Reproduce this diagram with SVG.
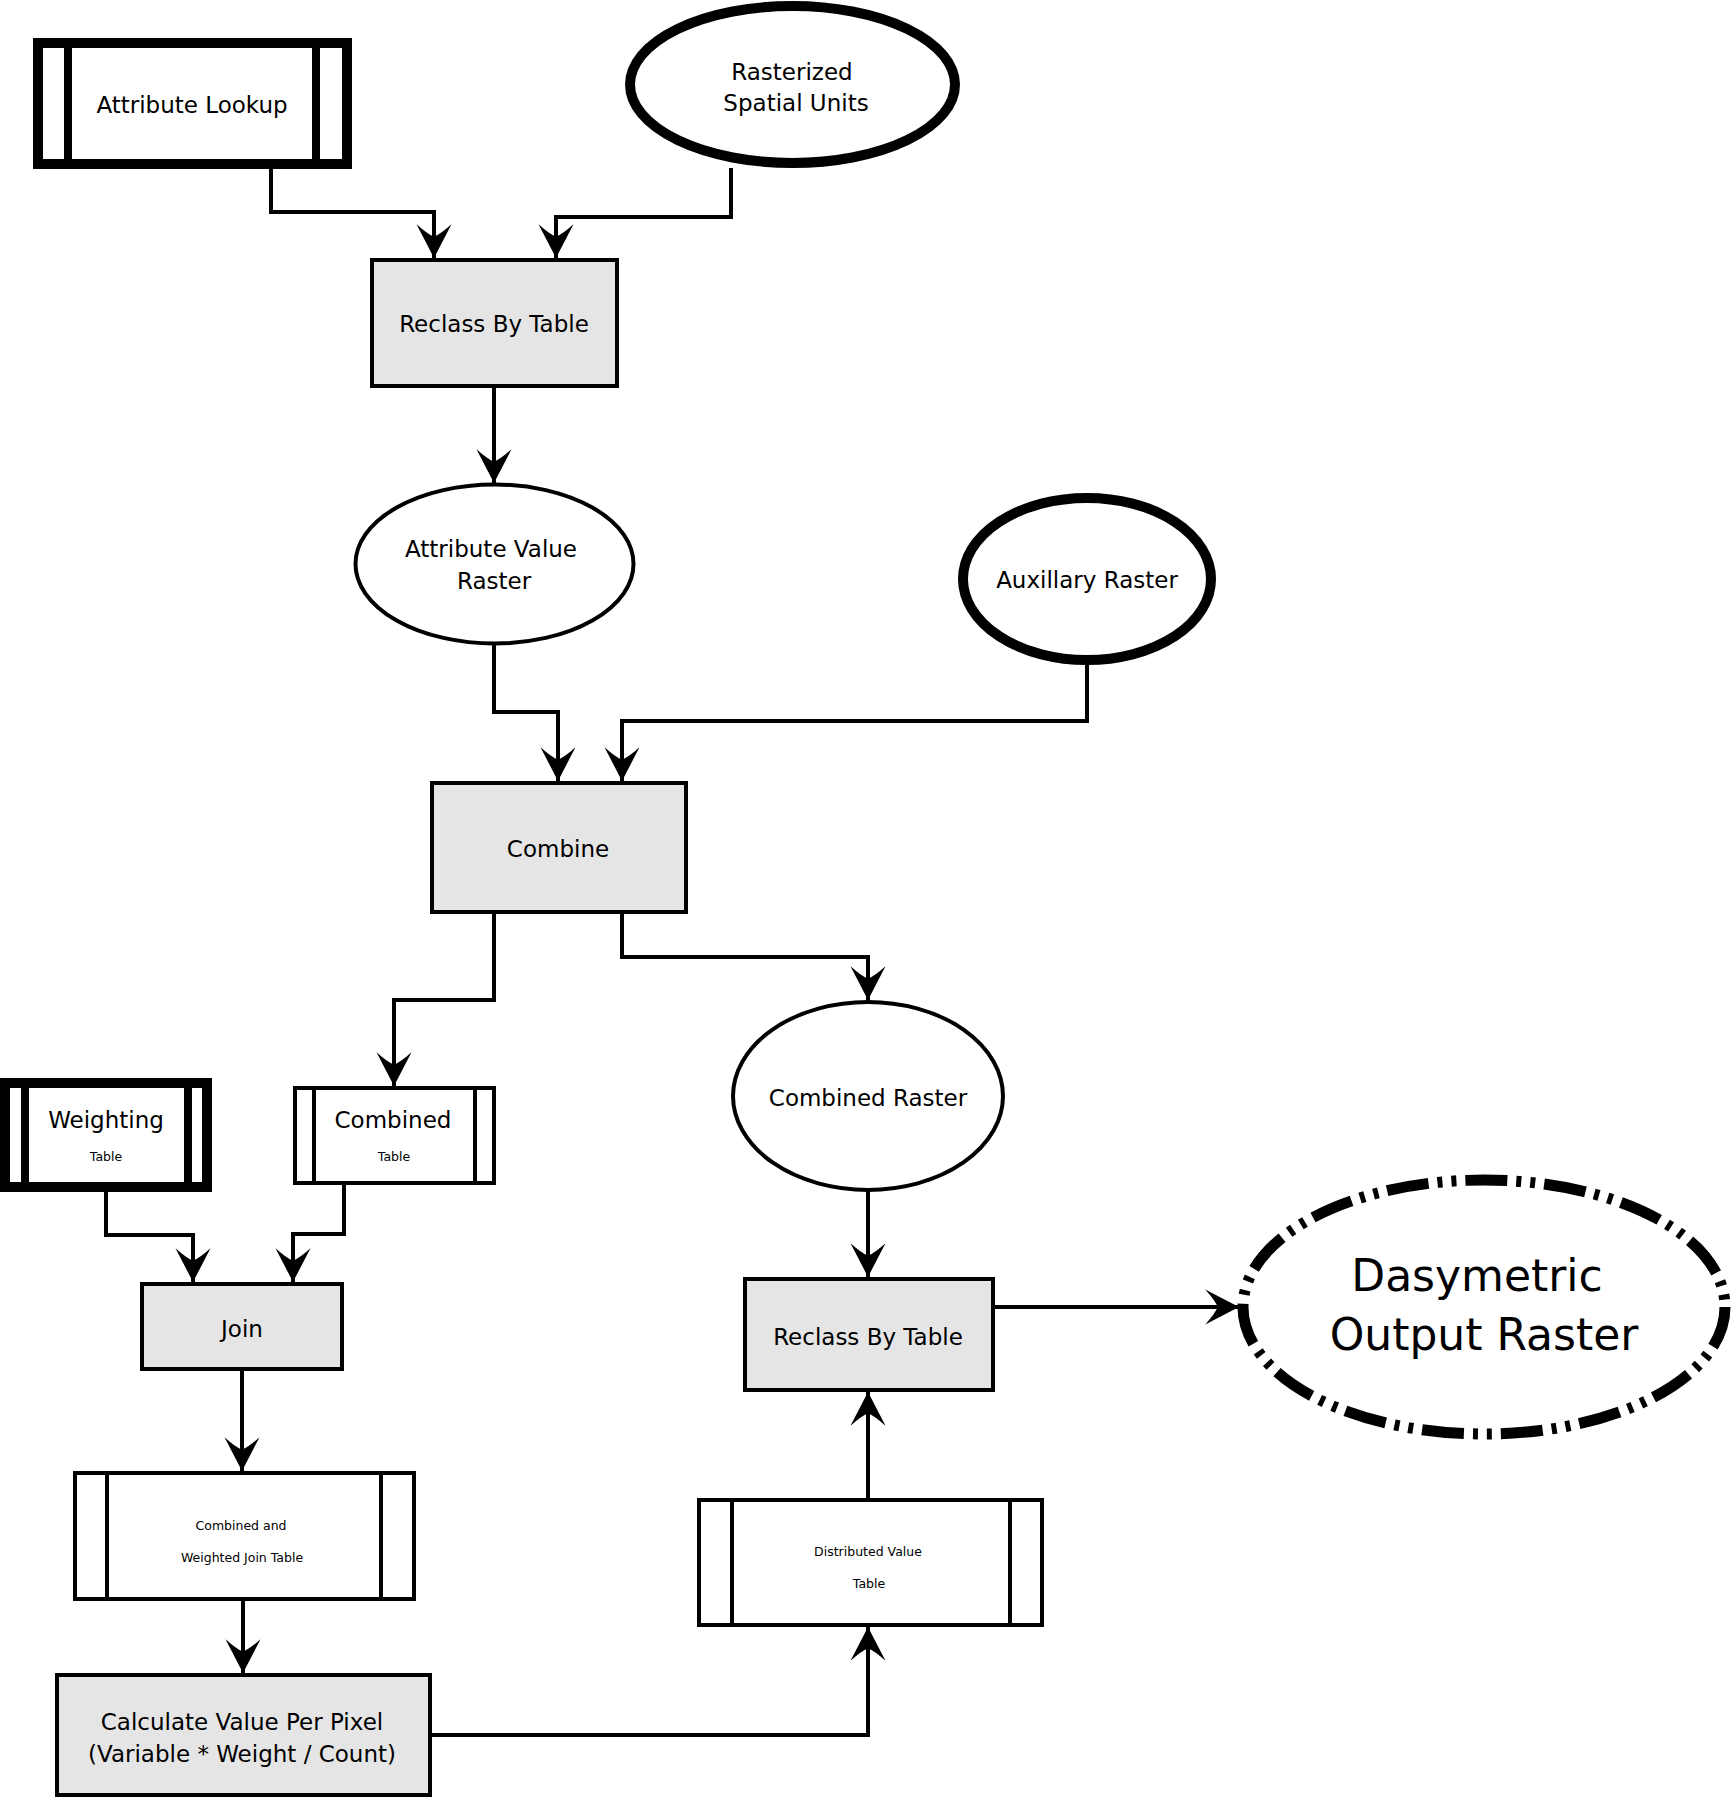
<svg xmlns="http://www.w3.org/2000/svg" width="1732" height="1798" viewBox="0 0 1732 1798">
<defs>
<marker id="arr" markerUnits="userSpaceOnUse" markerWidth="40" markerHeight="40" viewBox="-30 -16 32 32" refX="0" refY="0" orient="auto">
<path d="M0,0 L-27,-14 Q-19,-5 -17,0 Q-19,5 -27,14 Z" fill="#000"/>
</marker>
</defs>
<style>
text{font-family:"DejaVu Sans","Liberation Sans",sans-serif;fill:#000;text-anchor:middle}
.t{font-size:23px}
.s{font-size:12.5px}
.xs{font-size:12.5px}
.big{font-size:44px}
.proc{fill:#e5e5e5;stroke:#000;stroke-width:4}
.tab{fill:#fff;stroke:#000;stroke-width:4}
.tabk{fill:#fff;stroke:#000;stroke-width:10}
.bar{stroke:#000;stroke-width:4;fill:none}
.bark{stroke:#000;stroke-width:8;fill:none}
.ell{fill:#fff;stroke:#000;stroke-width:4}
.ellk{fill:#fff;stroke:#000;stroke-width:10}
.c{fill:none;stroke:#000;stroke-width:4;marker-end:url(#arr)}
</style>
<rect width="1732" height="1798" fill="#fff"/>
<g id="connectors">
<path class="c" d="M271,169 V212 H434 V258"/>
<path class="c" d="M731,168 V217 H556 V258"/>
<path class="c" d="M494,388 V483"/>
<path class="c" d="M494,645 V712 H558 V781"/>
<path class="c" d="M1087,665 V721 H622 V781"/>
<path class="c" d="M494,914 V1000 H394 V1086"/>
<path class="c" d="M622,914 V957 H868 V1000"/>
<path class="c" d="M868,1191 V1277"/>
<path class="c" d="M106,1192 V1235 H193 V1282"/>
<path class="c" d="M344,1185 V1234 H293 V1282"/>
<path class="c" d="M242,1371 V1471"/>
<path class="c" d="M243,1601 V1673"/>
<path class="c" d="M432,1735 H868 V1627"/>
<path class="c" d="M868,1498 V1392"/>
<path class="c" d="M995,1307 H1239"/>
</g>
<g id="attribute-lookup">
<rect class="tabk" x="38" y="43" width="309" height="121"/>
<line class="bark" x1="68" y1="43" x2="68" y2="164"/>
<line class="bark" x1="316" y1="43" x2="316" y2="164"/>
<text class="t" x="192" y="113">Attribute Lookup</text>
</g>
<g id="rasterized-spatial-units">
<ellipse class="ellk" cx="792.5" cy="84.5" rx="162.5" ry="78.5"/>
<text class="t" x="792" y="80">Rasterized</text>
<text class="t" x="796" y="111">Spatial Units</text>
</g>
<g id="reclass-1">
<rect class="proc" x="372" y="260" width="245" height="126"/>
<text class="t" x="494" y="332">Reclass By Table</text>
</g>
<g id="attribute-value-raster">
<ellipse class="ell" cx="494.5" cy="564" rx="139" ry="79.5"/>
<text class="t" x="491" y="557">Attribute Value</text>
<text class="t" x="494" y="589">Raster</text>
</g>
<g id="auxillary-raster">
<ellipse class="ellk" cx="1087" cy="579" rx="124" ry="81"/>
<text class="t" x="1087" y="588">Auxillary Raster</text>
</g>
<g id="combine">
<rect class="proc" x="432" y="783" width="254" height="129"/>
<text class="t" x="558" y="857">Combine</text>
</g>
<g id="weighting-table">
<rect class="tabk" x="5" y="1083" width="202" height="104"/>
<line class="bark" x1="25" y1="1083" x2="25" y2="1187"/>
<line class="bark" x1="188" y1="1083" x2="188" y2="1187"/>
<text class="t" x="106" y="1128">Weighting</text>
<text class="s" x="106" y="1161">Table</text>
</g>
<g id="combined-table">
<rect class="tab" x="295" y="1088" width="199" height="95"/>
<line class="bar" x1="314" y1="1088" x2="314" y2="1183"/>
<line class="bar" x1="475" y1="1088" x2="475" y2="1183"/>
<text class="t" x="393" y="1128">Combined</text>
<text class="s" x="394" y="1161">Table</text>
</g>
<g id="combined-raster">
<ellipse class="ell" cx="868" cy="1096" rx="135" ry="94"/>
<text class="t" x="868" y="1106">Combined Raster</text>
</g>
<g id="join">
<rect class="proc" x="142" y="1284" width="200" height="85"/>
<text class="t" x="242" y="1337">Join</text>
</g>
<g id="reclass-2">
<rect class="proc" x="745" y="1279" width="248" height="111"/>
<text class="t" x="868" y="1345">Reclass By Table</text>
</g>
<g id="dasymetric-output-raster">
<ellipse cx="1484" cy="1307" rx="241" ry="127" fill="#fff" stroke="#000" stroke-width="11" stroke-dasharray="42 9 5 9 5 9"/>
<text class="big" x="1477" y="1291">Dasymetric</text>
<text class="big" x="1484" y="1350">Output Raster</text>
</g>
<g id="combined-weighted-join-table">
<rect class="tab" x="75" y="1473" width="339" height="126"/>
<line class="bar" x1="107" y1="1473" x2="107" y2="1599"/>
<line class="bar" x1="381" y1="1473" x2="381" y2="1599"/>
<text class="xs" x="241" y="1530">Combined and</text>
<text class="xs" x="242" y="1562">Weighted Join Table</text>
</g>
<g id="distributed-value-table">
<rect class="tab" x="699" y="1500" width="343" height="125"/>
<line class="bar" x1="732" y1="1500" x2="732" y2="1625"/>
<line class="bar" x1="1010" y1="1500" x2="1010" y2="1625"/>
<text class="xs" x="868" y="1556">Distributed Value</text>
<text class="xs" x="869" y="1588">Table</text>
</g>
<g id="calculate-value-per-pixel">
<rect class="proc" x="57" y="1675" width="373" height="120"/>
<text class="t" x="242" y="1730">Calculate Value Per Pixel</text>
<text class="t" x="242" y="1762">(Variable * Weight / Count)</text>
</g>
</svg>
